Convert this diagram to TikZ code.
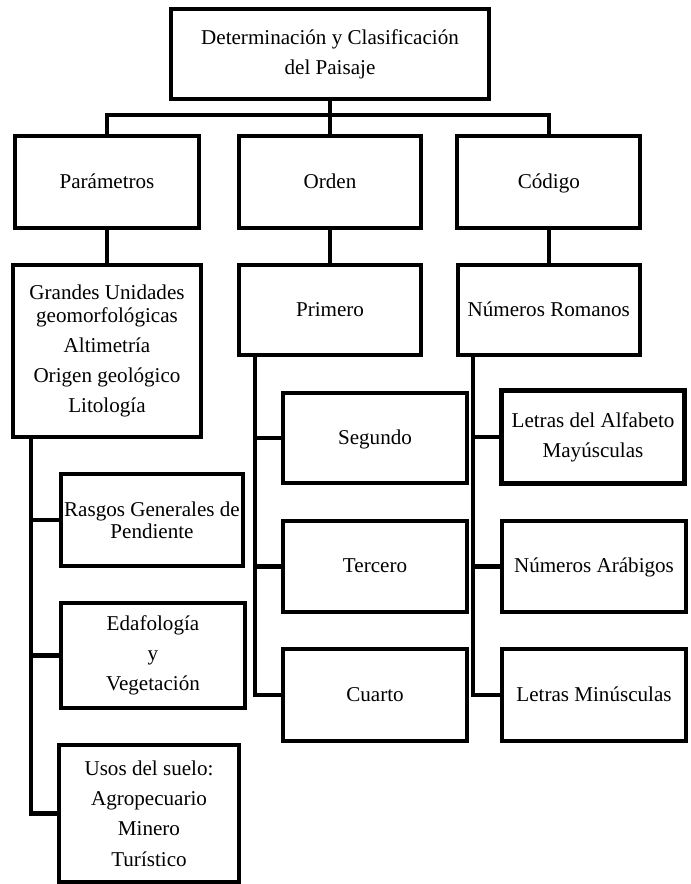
\documentclass[tikz,border=0pt]{standalone}
\usepackage{fontspec}
\setmainfont{Liberation Serif}
\usetikzlibrary{positioning}

\begin{document}
\begin{tikzpicture}[
  caja/.style={draw=black, line width=3pt, inner sep=0pt, align=center, font=\fontsize{15}{21.5}\selectfont},
  enlace/.style={draw=black, line width=3pt}]
  \useasboundingbox (0,0) rectangle (17.25,-22.1);
  % Nivel superior
  \node[caja, minimum width=7.95cm, minimum height=2.25cm] (paisaje) at (8.25,-1.35) {Determinaci\'on y Clasificaci\'on\\del Paisaje};
  % Primer nivel
  \node[caja, minimum width=4.6cm, minimum height=2.3cm] (param) at (2.675,-4.55) {Par\'ametros\strut};
  \node[caja, minimum width=4.55cm, minimum height=2.3cm] (orden) at (8.25,-4.55) {Orden\strut};
  \node[caja, minimum width=4.575cm, minimum height=2.3cm] (codigo) at (13.72,-4.55) {C\'odigo\strut};
  \draw[enlace] (paisaje.south) -- (orden.north);
  \draw[enlace] (param.north) -- ++(0,0.475) -| (codigo.north);
  % Segundo nivel
  \node[caja, minimum width=4.7cm, minimum height=4.3cm] (grandes) at (2.675,-8.775) {Grandes Unidades\\[-5pt]geomorfol\'ogicas\\Altimetr\'ia\\Origen geol\'ogico\\Litolog\'ia};
  \node[caja, minimum width=4.55cm, minimum height=2.25cm] (primero) at (8.25,-7.75) {Primero\strut};
  \node[caja, minimum width=4.55cm, minimum height=2.25cm] (romanos) at (13.72,-7.75) {N\'umeros Romanos\strut};
  \draw[enlace] (param.south) -- (grandes.north);
  \draw[enlace] (orden.south) -- (primero.north);
  \draw[enlace] (codigo.south) -- (romanos.north);
  % Rama de parametros
  \node[caja, minimum width=4.55cm, minimum height=2.3cm] (rasgos) at (3.8,-13.0) {Rasgos Generales de\\[-6pt]Pendiente};
  \node[caja, minimum width=4.6cm, minimum height=2.625cm] (edafo) at (3.825,-16.3875) {Edafolog\'ia\\y\\Vegetaci\'on};
  \node[caja, minimum width=4.5cm, minimum height=3.425cm] (usos) at (3.725,-20.3375) {Usos del suelo:\\Agropecuario\\Minero\\Tur\'istico};
  \coordinate (ejepar) at ([xshift=0.5cm]grandes.south west);
  \draw[enlace] (ejepar) |- (usos.west);
  \draw[enlace] (ejepar |- rasgos.west) -- (rasgos.west);
  \draw[enlace] (ejepar |- edafo.west) -- (edafo.west);
  % Rama de orden
  \node[caja, minimum width=4.6cm, minimum height=2.25cm] (segundo) at (9.375,-10.95) {Segundo\strut};
  \node[caja, minimum width=4.6cm, minimum height=2.275cm] (tercero) at (9.375,-14.1625) {Tercero\strut};
  \node[caja, minimum width=4.6cm, minimum height=2.3cm] (cuarto) at (9.375,-17.375) {Cuarto\strut};
  \coordinate (ejeord) at ([xshift=0.45cm]primero.south west);
  \draw[enlace] (ejeord) |- (cuarto.west);
  \draw[enlace] (ejeord |- segundo.west) -- (segundo.west);
  \draw[enlace] (ejeord |- tercero.west) -- (tercero.west);
  % Rama de codigo
  \node[caja, minimum width=4.575cm, minimum height=2.325cm] (mayus) at (14.825,-10.925) {Letras del Alfabeto\\May\'usculas};
  \node[caja, minimum width=4.6cm, minimum height=2.275cm] (arabigos) at (14.85,-14.1625) {N\'umeros Ar\'abigos\strut};
  \node[caja, minimum width=4.6cm, minimum height=2.3cm] (minus) at (14.85,-17.375) {Letras Min\'usculas\strut};
  \coordinate (ejecod) at ([xshift=0.425cm]romanos.south west);
  \draw[enlace] (ejecod) |- (minus.west);
  \draw[enlace] (ejecod |- mayus.west) -- (mayus.west);
  \draw[enlace] (ejecod |- arabigos.west) -- (arabigos.west);
\end{tikzpicture}
\end{document}
